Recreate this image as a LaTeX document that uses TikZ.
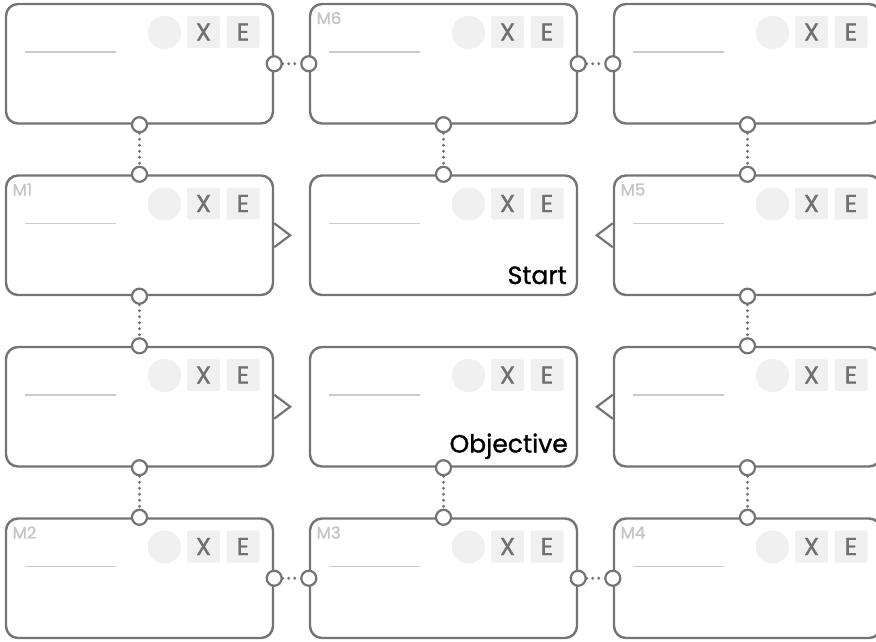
\documentclass[tikz,border=0pt]{standalone}
\usepackage{fontspec}
\setmainfont{Poppins}
\newfontfamily\medfont{Poppins}[FakeBold=1.2]
\definecolor{boxgray}{HTML}{747474}
\definecolor{chipfill}{HTML}{F0F0F0}
\definecolor{chiptext}{HTML}{707070}
\definecolor{tagtext}{HTML}{C4C4C4}
\definecolor{rulegray}{HTML}{CCCCCC}
\begin{document}
\begin{tikzpicture}[x=1pt,y=-1pt,
  box/.style={draw=boxgray, line width=2.4pt, rounded corners=12pt, minimum width=267pt, minimum height=119.5pt, inner sep=0pt, fill=white},
  port/.style={circle, draw=boxgray, line width=2.2pt, fill=white, minimum size=15pt, inner sep=0pt},
  link/.style={draw=boxgray, line width=3.2pt, line cap=round, dash pattern=on 0pt off 6pt},
  chevron/.style={draw=boxgray, line width=2.2pt, line join=miter},
  dot/.style={circle, fill=chipfill, minimum size=33.4pt, inner sep=0pt},
  chip/.style={fill=chipfill, rounded corners=2pt, minimum width=33pt, minimum height=32pt, inner sep=0pt, text=chiptext, font=\medfont\fontsize{24.5}{24.5}\selectfont},
  tag/.style={text=tagtext, inner sep=0pt, anchor=base west, font=\medfont\fontsize{16.5}{16.5}\selectfont},
  caption/.style={text=black, inner sep=0pt, anchor=base east, font=\medfont\fontsize{25}{25}\selectfont},
  rulel/.style={draw=rulegray, line width=1.4pt}
]
\useasboundingbox (0,0) rectangle (876,641);
\clip (0,0) rectangle (876,641);
% boxes
\foreach \r/\cy in {1/63.75, 2/235.25, 3/406.75, 4/578.25}{
  \foreach \c/\cx in {1/139.5, 2/443.5, 3/747.5}{
    \node[box] (b\r\c) at (\cx,\cy) {};
    \node[dot] (d\r\c) at (\cx+25,\cy-31.25) {};
    \node[chip] (x\r\c) at (\cx+64,\cy-31.75) {X};
    \node[chip] (e\r\c) at (\cx+103.5,\cy-31.75) {E};
    \draw[rulel] (\cx-114.5,\cy-11.75) -- (\cx-23.5,\cy-11.75);
  }
}
% tags
\node[tag] (t6) at (316.5,24) {M6};
\node[tag] (t1) at (12.5,195.5) {M1};
\node[tag] (t5) at (620.5,195.5) {M5};
\node[tag] (t2) at (12.5,538.5) {M2};
\node[tag] (t3) at (316.5,538.5) {M3};
\node[tag] (t4) at (620.5,538.5) {M4};
% captions
\node[caption] (start) at (567,284) {Start};
\node[caption] (objective) at (568,452.5) {Objective};
% chevrons
\draw[chevron] ([yshift=-12pt]b21.east) -- ([xshift=16pt]b21.east) -- ([yshift=12pt]b21.east);
\draw[chevron] ([yshift=-12pt]b31.east) -- ([xshift=16pt]b31.east) -- ([yshift=12pt]b31.east);
\draw[chevron] ([yshift=-12pt]b23.west) -- ([xshift=-16pt]b23.west) -- ([yshift=12pt]b23.west);
\draw[chevron] ([yshift=-12pt]b33.west) -- ([xshift=-16pt]b33.west) -- ([yshift=12pt]b33.west);
% ports and links
\foreach \a/\b in {11/21, 21/31, 31/41, 12/22, 32/42, 13/23, 23/33, 33/43}{
  \node[port] (ps\a) at (b\a.south) {};
  \node[port] (pn\b) at (b\b.north) {};
  \draw[link] (ps\a) -- (pn\b);
}
\foreach \a/\b in {11/12, 12/13, 41/42, 42/43}{
  \node[port] (pe\a) at (b\a.east) {};
  \node[port] (pw\b) at (b\b.west) {};
  \draw[link] (pe\a) -- (pw\b);
}
\end{tikzpicture}
\end{document}
